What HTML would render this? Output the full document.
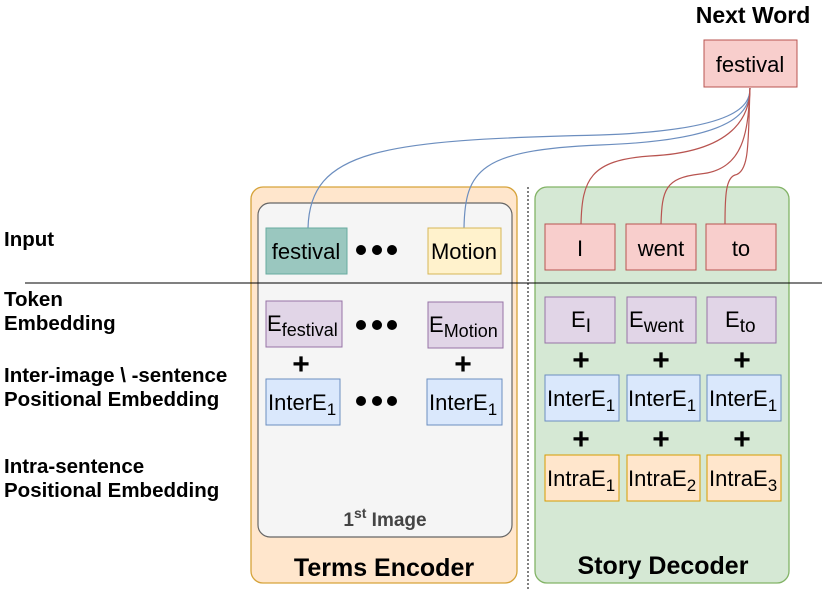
<!DOCTYPE html>
<html><head><meta charset="utf-8"><style>
html,body{margin:0;padding:0;background:#fff;}
svg{display:block;font-family:"Liberation Sans",sans-serif;}
.l{font-weight:bold;font-size:20.5px;fill:#000;}
.t{font-size:22px;fill:#000;}
.p{font-weight:bold;font-size:30px;fill:#000;}
</style></head><body>
<svg width="831" height="592" viewBox="0 0 831 592" xmlns="http://www.w3.org/2000/svg">
<rect x="251" y="187" width="266" height="396" rx="12" fill="#ffe6cc" stroke="#d6a33a" stroke-width="1.3"/>
<rect x="258" y="203" width="254" height="334" rx="12" fill="#f5f5f5" stroke="#666" stroke-width="1.2"/>
<rect x="535" y="187" width="254" height="396" rx="12" fill="#d5e8d4" stroke="#82b366" stroke-width="1.3"/>
<line x1="528" y1="187" x2="528" y2="590" stroke="#000" stroke-width="1" stroke-dasharray="2,2"/>
<line x1="25" y1="283" x2="822" y2="283" stroke="#000" stroke-width="1"/>

<g fill="none" stroke-width="1.2">
<path d="M750 88 C750 105 740 130 600 135 C380 140 310 150 308 228" stroke="#6c8ebf"/>
<path d="M750 88 C750 110 740 140 600 145 C480 150 465 170 464 228" stroke="#6c8ebf"/>
<path d="M750 88 C750 115 735 152 650 156 C590 160 582 180 581 224" stroke="#b85450"/>
<path d="M750 88 C748 130 745 170 700 174 C665 178 662 190 661 224" stroke="#b85450"/>
<path d="M750 88 C748 140 750 172 735 175 C726 178 725 195 725 224" stroke="#b85450"/>
</g>

<text x="753" y="23" font-weight="bold" font-size="23" text-anchor="middle">Next Word</text>
<rect x="704" y="40" width="93" height="47" fill="#f8cecc" stroke="#b85450"/>
<text x="750" y="72" class="t" text-anchor="middle">festival</text>

<text x="4" y="246" class="l">Input</text>
<text x="4" y="306" class="l">Token</text>
<text x="4" y="330" class="l">Embedding</text>
<text x="4" y="382" class="l">Inter-image \ -sentence</text>
<text x="4" y="406" class="l">Positional Embedding</text>
<text x="4" y="473" class="l">Intra-sentence</text>
<text x="4" y="497" class="l">Positional Embedding</text>

<rect x="266" y="228" width="81" height="46" fill="#9ac7bf" stroke="#67ab9f"/>
<text x="306" y="259" class="t" text-anchor="middle">festival</text>
<rect x="428" y="228" width="73" height="46" fill="#fff2cc" stroke="#d6b656"/>
<text x="464" y="259" class="t" text-anchor="middle">Motion</text>
<g fill="#000"><circle cx="361" cy="250" r="5"/><circle cx="377" cy="250" r="5"/><circle cx="392" cy="250" r="5"/>
<circle cx="361" cy="325" r="5"/><circle cx="377" cy="325" r="5"/><circle cx="392" cy="325" r="5"/>
<circle cx="361" cy="401" r="5"/><circle cx="377" cy="401" r="5"/><circle cx="392" cy="401" r="5"/></g>
<rect x="266" y="301" width="76" height="46" fill="#e1d5e7" stroke="#9673a6"/>
<text x="267" y="331" class="t">E<tspan font-size="18" dy="5">festival</tspan></text>
<rect x="428" y="302" width="75" height="46" fill="#e1d5e7" stroke="#9673a6"/>
<text x="429" y="332" class="t">E<tspan font-size="18" dy="5">Motion</tspan></text>
<text x="301" y="374" class="p" text-anchor="middle">+</text>
<text x="463" y="374" class="p" text-anchor="middle">+</text>
<rect x="266" y="379" width="74" height="46" fill="#dae8fc" stroke="#6c8ebf"/>
<text x="268" y="410" class="t">InterE<tspan font-size="17" dy="5">1</tspan></text>
<rect x="427" y="379" width="75" height="46" fill="#dae8fc" stroke="#6c8ebf"/>
<text x="429" y="410" class="t">InterE<tspan font-size="17" dy="5">1</tspan></text>
<text x="385" y="526" font-weight="bold" font-size="19" fill="#444" text-anchor="middle">1<tspan font-size="14" dy="-8">st</tspan><tspan dy="8"> Image</tspan></text>
<text x="384" y="576" font-weight="bold" font-size="25" text-anchor="middle">Terms Encoder</text>

<g fill="#f8cecc" stroke="#b85450">
<rect x="545" y="224" width="70" height="46"/><rect x="626" y="224" width="70" height="46"/><rect x="706" y="224" width="70" height="46"/></g>
<text x="580" y="256" class="t" text-anchor="middle">I</text>
<text x="661" y="256" class="t" text-anchor="middle">went</text>
<text x="741" y="256" class="t" text-anchor="middle">to</text>
<g fill="#e1d5e7" stroke="#9673a6">
<rect x="545" y="297" width="70" height="46"/><rect x="627" y="297" width="69" height="46"/><rect x="707" y="297" width="69" height="46"/></g>
<text x="571" y="327" class="t">E<tspan font-size="19" dy="5">I</tspan></text>
<text x="629" y="327" class="t">E<tspan font-size="19" dy="5">went</tspan></text>
<text x="725" y="327" class="t">E<tspan font-size="19" dy="5">to</tspan></text>
<text x="581" y="370" class="p" text-anchor="middle">+</text><text x="661" y="370" class="p" text-anchor="middle">+</text><text x="742" y="370" class="p" text-anchor="middle">+</text>
<text x="581" y="449" class="p" text-anchor="middle">+</text><text x="661" y="449" class="p" text-anchor="middle">+</text><text x="742" y="449" class="p" text-anchor="middle">+</text>
<g fill="#dae8fc" stroke="#6c8ebf">
<rect x="545" y="375" width="74" height="46"/><rect x="627" y="375" width="73" height="46"/><rect x="707" y="375" width="74" height="46"/></g>
<text x="547" y="406" class="t">InterE<tspan font-size="17" dy="5">1</tspan></text>
<text x="628" y="406" class="t">InterE<tspan font-size="17" dy="5">1</tspan></text>
<text x="709" y="406" class="t">InterE<tspan font-size="17" dy="5">1</tspan></text>
<g fill="#ffe6cc" stroke="#d79b00">
<rect x="545" y="455" width="74" height="46"/><rect x="627" y="455" width="73" height="46"/><rect x="707" y="455" width="74" height="46"/></g>
<text x="547" y="486" class="t">IntraE<tspan font-size="17" dy="5">1</tspan></text>
<text x="628" y="486" class="t">IntraE<tspan font-size="17" dy="5">2</tspan></text>
<text x="709" y="486" class="t">IntraE<tspan font-size="17" dy="5">3</tspan></text>
<text x="663" y="574" font-weight="bold" font-size="25" text-anchor="middle">Story Decoder</text>
</svg>
</body></html>
